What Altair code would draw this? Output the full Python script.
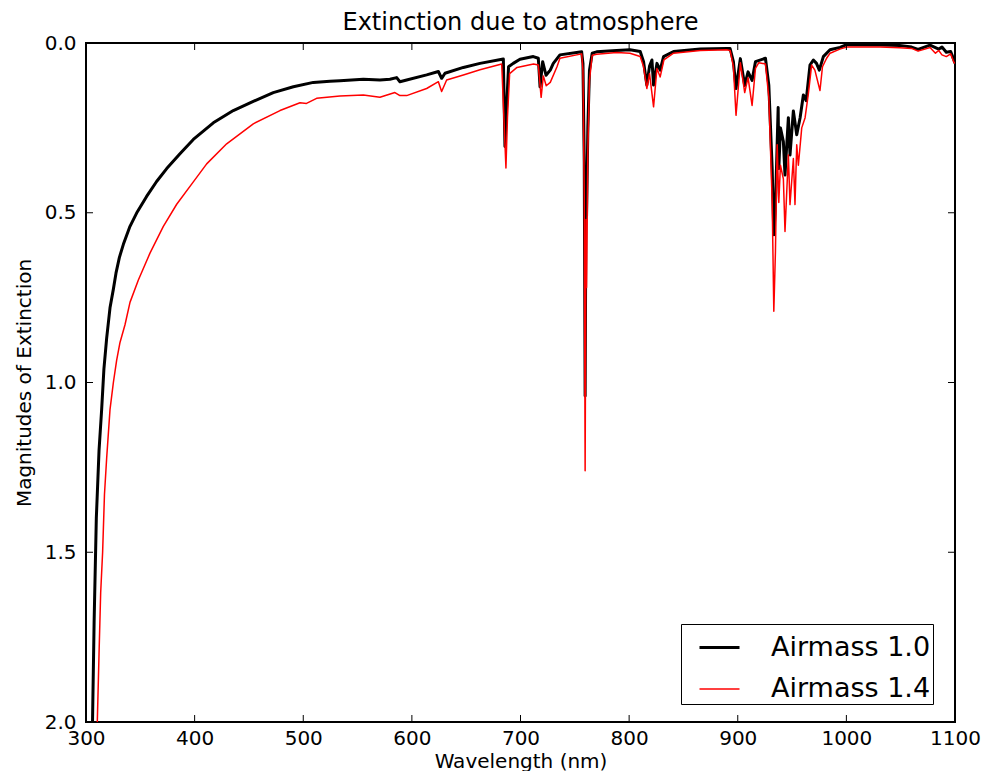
import altair as alt
import pandas as pd

# Airmass 1.0 (black) : wavelength (nm) and magnitudes of extinction
wl_am10 = [306.0, 307.5, 309.5, 312.0, 314.4, 316.5, 319.0, 322.1, 325.2, 327.6, 330.7, 334.4,
           340.5, 346.6, 355.8, 365.0, 374.3, 386.5, 398.8, 417.2, 435.6, 454.0, 472.4, 490.9,
           509.3, 524.6, 533.8, 555.3, 570.6, 579.8, 586.0, 589.0, 595.2, 613.6, 624.4, 627.4,
           630.5, 647.4, 662.7, 684.2, 685.7, 687.0, 689.0, 693.3, 699.5, 711.8, 716.4, 718.0,
           720.4, 723.5, 727.4, 730.2, 736.3, 756.3, 757.5, 758.7, 759.5, 760.3, 760.8, 762.0,
           763.5, 766.0, 770.1, 788.5, 800.8, 810.2, 813.3, 816.3, 818.8, 821.0, 822.5, 825.6,
           828.6, 831.7, 840.9, 865.5, 889.8, 892.9, 896.0, 898.4, 902.4, 906.4, 909.5, 913.2,
           916.3, 925.5, 928.6, 931.7, 933.2, 934.7, 937.2, 937.8, 939.3, 942.0, 943.5, 946.6,
           948.1, 951.2, 954.3, 957.4, 960.4, 963.0, 966.5, 969.6, 972.5, 975.1, 978.8, 984.9,
           994.2, 1000.2, 1031.0, 1049.0, 1060.0, 1066.0, 1077.0, 1085.0, 1088.0, 1092.0, 1096.0,
           1099.0, 1100.0]
ext_am10 = [2.0, 1.70, 1.40, 1.20, 1.08, 0.96, 0.87, 0.78, 0.725, 0.678, 0.632, 0.593,
            0.540, 0.501, 0.452, 0.408, 0.370, 0.326, 0.284, 0.235, 0.199, 0.172, 0.146, 0.129,
            0.116, 0.113, 0.111, 0.107, 0.109, 0.107, 0.102, 0.114, 0.109, 0.094, 0.084, 0.104,
            0.089, 0.072, 0.060, 0.047, 0.305, 0.20, 0.07, 0.060, 0.048, 0.040, 0.045, 0.129,
            0.055, 0.095, 0.080, 0.060, 0.035, 0.026, 0.06, 0.35, 1.04, 0.42, 0.51, 0.25,
            0.08, 0.030, 0.026, 0.022, 0.020, 0.025, 0.055, 0.124, 0.068, 0.05, 0.124, 0.060,
            0.080, 0.040, 0.025, 0.018, 0.016, 0.016, 0.055, 0.134, 0.046, 0.125, 0.085, 0.11,
            0.055, 0.045, 0.124, 0.37, 0.565, 0.48, 0.19, 0.37, 0.25, 0.29, 0.389, 0.22,
            0.33, 0.20, 0.27, 0.22, 0.153, 0.17, 0.065, 0.050, 0.06, 0.080, 0.040, 0.020,
            0.013, 0.005, 0.006, 0.007, 0.012, 0.019, 0.006, 0.018, 0.012, 0.027, 0.025,
            0.050, 0.06]

# Airmass 1.4 (red)
wl_am14 = [310.4, 312.0, 313.5, 315.3, 317.0, 319.0, 322.1, 325.2, 328.2, 331.3, 335.9, 340.5,
           348.2, 358.9, 371.2, 383.5, 398.8, 411.1, 429.5, 454.0, 478.6, 497.0, 503.0, 512.3,
           533.8, 555.3, 570.6, 584.4, 589.0, 595.2, 613.6, 624.4, 627.4, 632.0, 647.4, 662.7,
           682.7, 686.6, 688.0, 690.0, 696.8, 712.0, 716.4, 719.0, 721.0, 723.7, 727.4, 733.6,
           736.3, 756.3, 757.5, 758.7, 759.5, 760.3, 760.8, 762.0, 763.5, 766.0, 770.1, 788.5,
           800.8, 810.2, 813.3, 816.3, 818.8, 822.5, 825.6, 828.6, 832.0, 840.9, 865.5, 889.8,
           893.0, 896.0, 898.4, 902.4, 906.4, 909.5, 913.2, 916.3, 919.4, 925.5, 928.6, 931.7,
           933.2, 934.7, 936.3, 937.8, 939.3, 942.0, 943.5, 946.6, 948.1, 951.2, 952.7, 954.3,
           955.8, 958.9, 962.0, 965.0, 968.0, 971.0, 975.7, 978.0, 981.8, 985.0, 994.0, 1000.2,
           1031.0, 1049.0, 1060.0, 1066.0, 1077.0, 1082.0, 1085.0, 1088.0, 1092.0, 1096.0,
           1099.0, 1100.0]
ext_am14 = [2.0, 1.80, 1.62, 1.50, 1.33, 1.224, 1.08, 1.00, 0.935, 0.882, 0.83, 0.764,
            0.698, 0.619, 0.54, 0.475, 0.409, 0.356, 0.297, 0.238, 0.199, 0.176, 0.178, 0.163,
            0.156, 0.153, 0.160, 0.146, 0.155, 0.155, 0.134, 0.114, 0.143, 0.109, 0.094, 0.079,
            0.062, 0.368, 0.22, 0.09, 0.072, 0.062, 0.065, 0.160, 0.097, 0.126, 0.116, 0.070,
            0.045, 0.032, 0.08, 0.45, 1.26, 0.52, 0.72, 0.32, 0.11, 0.036, 0.033, 0.028,
            0.030, 0.040, 0.07, 0.134, 0.090, 0.188, 0.075, 0.100, 0.050, 0.030, 0.022, 0.020,
            0.022, 0.07, 0.213, 0.058, 0.146, 0.102, 0.184, 0.075, 0.058, 0.062, 0.16, 0.467,
            0.79, 0.614, 0.30, 0.47, 0.36, 0.40, 0.555, 0.33, 0.476, 0.34, 0.476, 0.30,
            0.36, 0.25, 0.22, 0.15, 0.065, 0.08, 0.14, 0.07, 0.045, 0.030, 0.018, 0.012,
            0.012, 0.014, 0.016, 0.024, 0.013, 0.03, 0.022, 0.035, 0.04, 0.032,
            0.057, 0.06]

series_names = ["Airmass 1.0", "Airmass 1.4"]
series_colors = ["black", "red"]
series_widths = [3, 1.5]

x_ticks = [300, 400, 500, 600, 700, 800, 900, 1000, 1100]
y_ticks = [0.0, 0.5, 1.0, 1.5, 2.0]

W, H = 869, 679
TICK = 7
FONT = "DejaVu Sans"

df = pd.concat([
    pd.DataFrame({"wl": wl_am10, "ext": ext_am10, "series": series_names[0], "order": range(len(wl_am10))}),
    pd.DataFrame({"wl": wl_am14, "ext": ext_am14, "series": series_names[1], "order": range(len(wl_am14))}),
])

xscale = alt.Scale(domain=[300, 1100], nice=False, zero=False)
yscale = alt.Scale(domain=[0, 2], reverse=True, nice=False)

xaxis = alt.Axis(title="Wavelength (nm)", values=x_ticks, format="d", ticks=False, domain=False,
                 grid=False, labelPadding=6, labelFontSize=20, titleFontSize=20,
                 titlePadding=3, labelFont=FONT, titleFont=FONT, labelColor="black",
                 titleColor="black", titleFontWeight="normal", labelFlush=False)
yaxis = alt.Axis(title="Magnitudes of Extinction", values=y_ticks, format=".1f",
                 ticks=False, domain=False, grid=False, labelPadding=10,
                 labelFontSize=20, titleFontSize=20, titlePadding=10, labelFont=FONT,
                 titleFont=FONT, labelColor="black", titleColor="black",
                 titleFontWeight="normal", labelFlush=False)

leg = alt.Legend(orient="none", legendX=595, legendY=581, title=None,
                 symbolType="stroke", symbolSize=1600, labelFontSize=27,
                 labelFont=FONT, labelColor="black", strokeColor="black",
                 fillColor="white", padding=2, rowPadding=7, symbolOffset=15,
                 labelOffset=30, cornerRadius=0)

lines = alt.Chart(df).mark_line(clip=True, strokeJoin="round").encode(
    x=alt.X("wl:Q", scale=xscale, axis=xaxis),
    y=alt.Y("ext:Q", scale=yscale, axis=yaxis),
    color=alt.Color("series:N", scale=alt.Scale(domain=series_names, range=series_colors),
                    legend=leg),
    strokeWidth=alt.StrokeWidth("series:N", scale=alt.Scale(domain=series_names, range=series_widths),
                                legend=leg),
    order="order:Q",
    detail="series:N",
)

xt = pd.DataFrame({"wl": x_ticks})
yt = pd.DataFrame({"ext": y_ticks})

bottom_ticks = alt.Chart(xt).mark_rule(color="black", strokeWidth=1).encode(
    x=alt.X("wl:Q", scale=xscale, axis=xaxis), y=alt.value(H), y2=alt.value(H - TICK))
top_ticks = alt.Chart(xt).mark_rule(color="black", strokeWidth=1).encode(
    x=alt.X("wl:Q", scale=xscale, axis=xaxis), y=alt.value(0), y2=alt.value(TICK))
left_ticks = alt.Chart(yt).mark_rule(color="black", strokeWidth=1).encode(
    y=alt.Y("ext:Q", scale=yscale, axis=yaxis), x=alt.value(0), x2=alt.value(TICK))
right_ticks = alt.Chart(yt).mark_rule(color="black", strokeWidth=1).encode(
    y=alt.Y("ext:Q", scale=yscale, axis=yaxis), x=alt.value(W - TICK), x2=alt.value(W))

chart = alt.layer(lines, bottom_ticks, top_ticks, left_ticks, right_ticks).properties(
    width=W, height=H,
    title=alt.TitleParams("Extinction due to atmosphere", fontSize=24, font=FONT,
                          fontWeight="normal", color="black", offset=-2),
    autosize=alt.AutoSizeParams(type="none"),
    padding={"left": 78, "top": 35, "right": 27, "bottom": 49},
).configure(background="white").configure_view(stroke="black", strokeWidth=2)

chart.save("out.html", embed_options={"renderer": "svg", "actions": False})
